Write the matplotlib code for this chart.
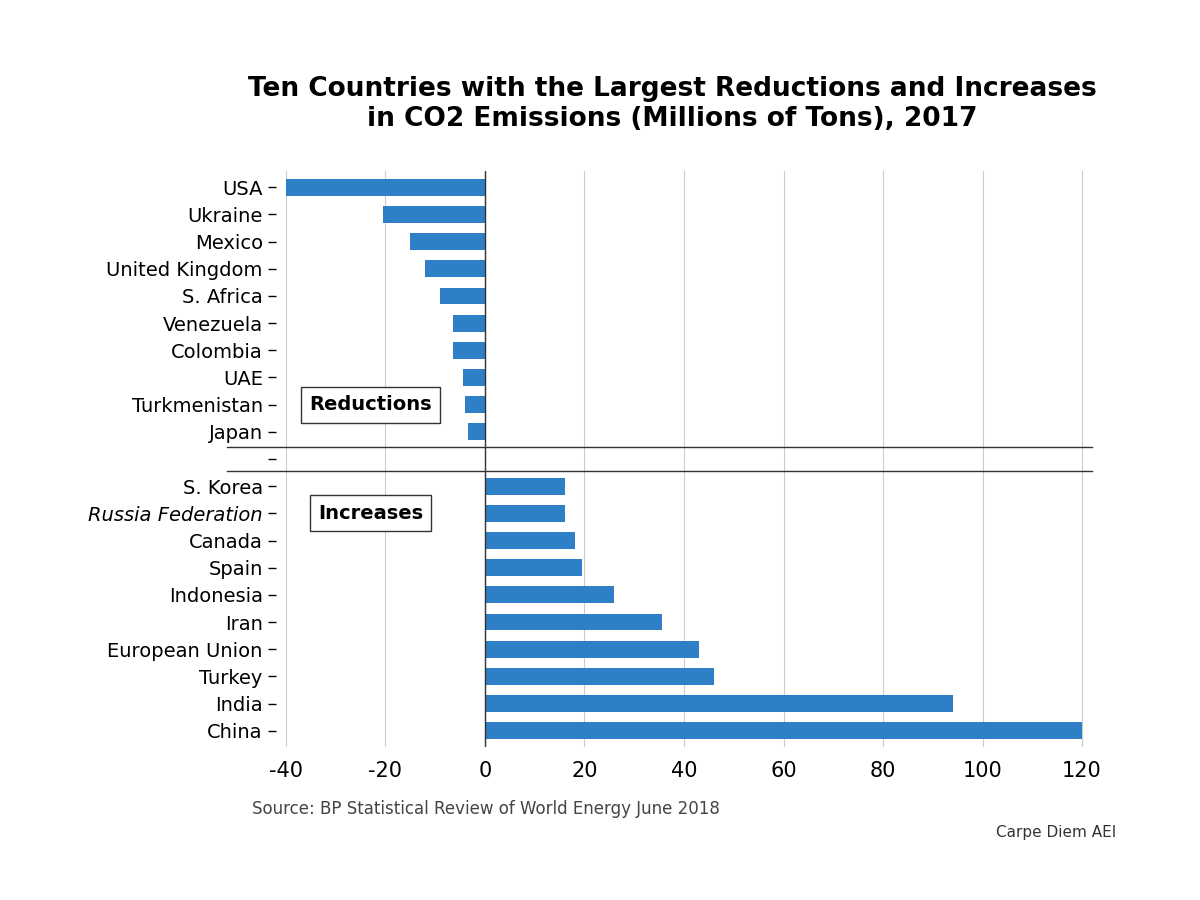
import matplotlib.pyplot as plt

countries = ["USA", "Ukraine", "Mexico", "United Kingdom", "S. Africa", "Venezuela",
             "Colombia", "UAE", "Turkmenistan", "Japan", "",
             "S. Korea", "Russia Federation", "Canada", "Spain", "Indonesia", "Iran",
             "European Union", "Turkey", "India", "China"]
values = [-40, -20.5, -15, -12, -9, -6.5, -6.5, -4.5, -4, -3.5, 0,
          16, 16, 18, 19.5, 26, 35.5, 43, 46, 94, 120]
ticks = [-40, -20, 0, 20, 40, 60, 80, 100, 120]

plt.rcParams['font.family'] = ['DejaVu Sans']
fig = plt.figure(figsize=(12, 9), dpi=100)
ax = fig.add_axes([0.23, 0.17, 0.68, 0.64])
y = list(range(len(countries)))
ax.barh(y, values, height=0.62, color='#2f7fc6', zorder=3)
ax.set_yticks(y)
ax.set_yticklabels(countries, fontsize=14)
for lab in ax.get_yticklabels():
    if lab.get_text() == "Russia Federation":
        lab.set_style('italic')
ax.invert_yaxis()
ax.set_xlim(-42, 122)
ax.set_ylim(len(countries) - 0.4, -0.6)
ax.set_xticks(ticks)
ax.set_xticklabels([str(t) for t in ticks], fontsize=15)
ax.grid(axis='x', color='#cccccc', linewidth=0.8, zorder=0)
ax.axvline(0, color='#333333', linewidth=1, zorder=4)
for s in ax.spines.values():
    s.set_visible(False)
ax.tick_params(axis='y', length=6, width=1)
ax.tick_params(axis='x', length=0, pad=10)
ax.axhline(9.55, color='#333333', linewidth=1, xmin=-0.06, clip_on=False, zorder=4)
ax.axhline(10.45, color='#333333', linewidth=1, xmin=-0.06, clip_on=False, zorder=4)
ax.text(-23, 8.0, "Reductions", fontsize=14, fontweight='bold', ha='center', va='center',
        bbox=dict(facecolor='white', edgecolor='#333333', pad=6))
ax.text(-23, 12.0, "Increases", fontsize=14, fontweight='bold', ha='center', va='center',
        bbox=dict(facecolor='white', edgecolor='#333333', pad=6))
fig.text(0.56, 0.885, "Ten Countries with the Largest Reductions and Increases\nin CO2 Emissions (Millions of Tons), 2017",
         ha='center', va='center', fontsize=19, fontweight='bold', linespacing=1.2)
fig.text(0.21, 0.095, "Source: BP Statistical Review of World Energy June 2018", fontsize=12, color='#444444')
fig.text(0.93, 0.07, "Carpe Diem AEI", fontsize=11, color='#333333', ha='right')
fig.savefig('out.png')
